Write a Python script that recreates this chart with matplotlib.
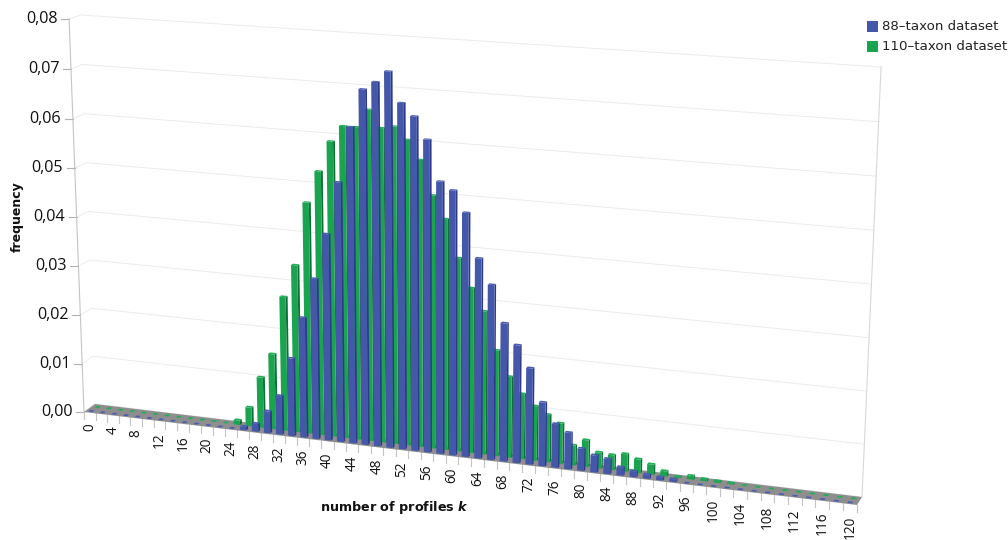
import matplotlib
matplotlib.use('Agg')
import matplotlib.pyplot as plt
from matplotlib.patches import Rectangle

profiles_k = list(range(0, 122, 2))
freq_88 = [0] * 13 + [
    .0007, .0016, .0044, .0078, .0156, .0240, .0320, .0411, .0515, .0625,
    .0700, .0716, .0738, .0679, .0655, .0612, .0533, .0518, .0477, .0391,
    .0342, .0270, .0230, .0188, .0124, .0085, .0071, .0043, .0033, .0029,
    .0016, .0011, .0008, .0006, .0005] + [0] * 13
freq_110 = [0] * 12 + [
    .0009, .0038, .0102, .0152, .0270, .0336, .0463, .0527, .0588, .0620,
    .0620, .0656, .0622, .0627, .0603, .0566, .0499, .0455, .0381, .0325,
    .0282, .0208, .0159, .0128, .0107, .0093, .0079, .0039, .0052, .0031,
    .0029, .0034, .0027, .0020, .0010, .0002, .0007, .0004, .0003, .0002] + [0] * 9
y_ticks = [0, .01, .02, .03, .04, .05, .06, .07, .08]
y_tick_labels = ['0,00', '0,01', '0,02', '0,03', '0,04', '0,05', '0,06', '0,07', '0,08']
series_names = ['88\u2013taxon dataset', '110\u2013taxon dataset']

# corners of the floor in picture pixels, the chart is a perspective box
FRONT_L = (84, 412)
FRONT_R = (857, 505)
BACK_L = (95, 404)
BACK_R = (862, 497)
VANISH = (445, 9922)
Y_MAX = .08
N_BINS = len(profiles_k)


def warp(t, r):
    return t / (t + (1 - t) * r)


def project(u, depth, value=0.0):
    # u is position in bins along the x axis, depth 0 is front and 1 is back
    t = warp(u / N_BINS, 1.10)
    fx = FRONT_L[0] + t * (FRONT_R[0] - FRONT_L[0])
    fy = FRONT_L[1] + t * (FRONT_R[1] - FRONT_L[1])
    bx = BACK_L[0] + t * (BACK_R[0] - BACK_L[0])
    by = BACK_L[1] + t * (BACK_R[1] - BACK_L[1])
    px = fx + depth * (bx - fx)
    py = fy + depth * (by - fy)
    h_front = 393 + t * (434 - 393)
    h_back = 389 + t * (430 - 389)
    h = (h_front + depth * (h_back - h_front)) * warp(value / Y_MAX, 1.02)
    return px + (px - VANISH[0]) * h / (VANISH[1] - py), py - h


def poly(ax, points, color, z=2):
    ax.fill([p[0] for p in points], [p[1] for p in points], color=color, lw=0, zorder=z)


def draw_bar(ax, center, d0, d1, value, colors):
    face, side, top = colors
    # empty bins only show as a small flat dash on the floor
    half = .26 if value > 0 else .18
    u0, u1 = center - half, center + half
    if value > 0:
        poly(ax, [project(u1, d0), project(u1, d1), project(u1, d1, value), project(u1, d0, value)], side)
        poly(ax, [project(u0, d0), project(u1, d0), project(u1, d0, value), project(u0, d0, value)], face)
    poly(ax, [project(u0, d0, value), project(u1, d0, value), project(u1, d1, value), project(u0, d1, value)], top)


fig = plt.figure(figsize=(10.08, 5.4), dpi=100)
ax = fig.add_axes([0, 0, 1, 1])
ax.set_xlim(0, 1008)
ax.set_ylim(540, 0)
ax.axis('off')

# walls and grid
for value in y_ticks:
    a = project(0, 0, value)
    b = project(0, 1, value)
    c = project(N_BINS, 1, value)
    ax.plot([a[0], b[0], c[0]], [a[1], b[1], c[1]], color='#ebebeb', lw=0.7, zorder=0)
    ax.plot([a[0] - 8, a[0]], [a[1], a[1]], color='#b0b0b0', lw=0.8, zorder=0)
for u, depth, col in [(0, 0, '#c4c4c4'), (N_BINS, 1, '#d8d8d8')]:
    a = project(u, depth, 0)
    b = project(u, depth, Y_MAX)
    ax.plot([a[0], b[0]], [a[1], b[1]], color=col, lw=0.8, zorder=0)

# floor
poly(ax, [project(0, 0), project(N_BINS, 0), project(N_BINS, 1), project(0, 1)], '#8e8e8e', z=1)

# x ticks
for i in range(N_BINS + 1):
    x, y = project(i, 0)
    ax.plot([x, x], [y, y + 7], color='#c4c4c4', lw=0.8, zorder=0)

blue = ('#4557a9', '#2d3a8c', '#4a5cb4')
green = ('#1aa450', '#0d6f35', '#1fae58')
for i, value in enumerate(freq_110):
    draw_bar(ax, i + .5, .62, .82, value, green)
for i, value in enumerate(freq_88):
    draw_bar(ax, i + .44, .11, .31, value, blue)

# tick labels
for value, label in zip(y_ticks, y_tick_labels):
    x, y = project(0, 0, value)
    ax.text(x - 11.5, y, label, ha='right', va='center', fontsize=11.6,
            family='Open Sans', color='#111111')
for i, k in enumerate(profiles_k):
    if i % 2 == 0:
        x, y = project(i + .5, 0)
        ax.text(x, y + 11, str(k), rotation=90, ha='center', va='top', fontsize=9.8,
                family='Open Sans', color='#111111')

plt.rcParams['mathtext.fontset'] = 'dejavusans'
ax.text(394, 507, r'number of profiles $\mathbfit{k}$', ha='center', va='center',
        fontsize=9.2, fontweight='bold', color='#111111')
ax.text(17, 217, 'frequency', rotation=90, ha='center', va='center',
        fontsize=9, fontweight='bold', color='#111111')

# legend
for y, name, col in zip([21, 41], series_names, [blue[0], green[0]]):
    ax.add_patch(Rectangle((867, y), 11, 11, color=col, lw=0))
    ax.text(882, y + 5.5, name, ha='left', va='center', fontsize=9.6, color='#222222')

fig.savefig('out.png', dpi=100)
